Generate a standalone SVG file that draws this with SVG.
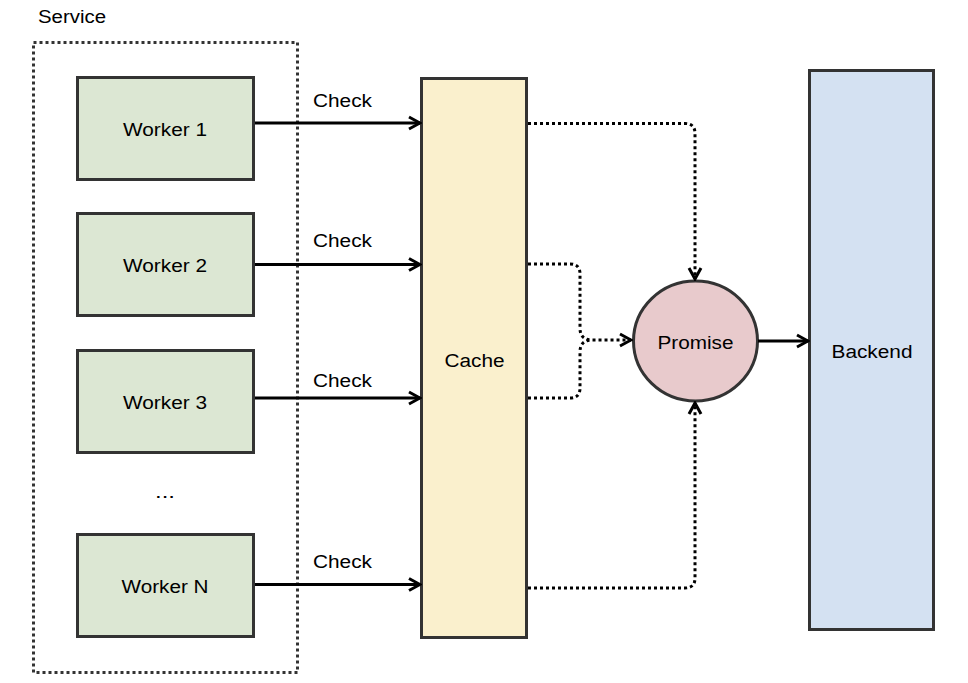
<svg xmlns="http://www.w3.org/2000/svg" width="968" height="683" viewBox="0 0 968 683">
<style>
  text { font-family: "Liberation Sans", Arial, sans-serif; font-size: 18px; fill: #000; }
  .box { stroke: #333; stroke-width: 3; }
  .worker { fill: #dce7d3; }
  .solid { fill: none; stroke: #000; stroke-width: 3; }
  .dot { fill: none; stroke: #000; stroke-width: 3; stroke-dasharray: 3 3; }
  .group { fill: none; stroke: #333; stroke-width: 3; stroke-dasharray: 3 3; }
</style>
<defs>
  <marker id="arr" markerUnits="userSpaceOnUse" viewBox="0 0 16 16" markerWidth="16" markerHeight="16" refX="14" refY="8" orient="auto">
    <path d="M3 2 L14 8 L3 14" fill="none" stroke="#000" stroke-width="3"/>
  </marker>
</defs>
<rect width="968" height="683" fill="#fff"/>

<g id="service">
  <rect class="group" x="33.5" y="42.5" width="264" height="630"/>
  <text x="38" y="23" textLength="68" lengthAdjust="spacingAndGlyphs">Service</text>
</g>

<g id="worker1">
  <rect class="box worker" x="77.5" y="77.5" width="176" height="102"/>
  <text x="123" y="136" textLength="84" lengthAdjust="spacingAndGlyphs">Worker 1</text>
</g>
<g id="worker2">
  <rect class="box worker" x="77.5" y="213.5" width="176" height="102"/>
  <text x="123" y="272" textLength="84" lengthAdjust="spacingAndGlyphs">Worker 2</text>
</g>
<g id="worker3">
  <rect class="box worker" x="77.5" y="350.5" width="176" height="102"/>
  <text x="123" y="409" textLength="84" lengthAdjust="spacingAndGlyphs">Worker 3</text>
</g>
<g id="ellipsis">
  <text x="155" y="498" textLength="20" lengthAdjust="spacingAndGlyphs">...</text>
</g>
<g id="workerN">
  <rect class="box worker" x="77.5" y="534.5" width="176" height="102"/>
  <text x="121.5" y="593" textLength="87" lengthAdjust="spacingAndGlyphs">Worker N</text>
</g>

<g id="cache">
  <rect class="box" fill="#faf0cd" x="421.5" y="78.5" width="105" height="559"/>
  <text x="444.5" y="367" textLength="60" lengthAdjust="spacingAndGlyphs">Cache</text>
</g>

<g id="promise">
  <ellipse class="box" fill="#e8cacc" cx="695.5" cy="341" rx="62" ry="60"/>
  <text x="657.5" y="349" textLength="76" lengthAdjust="spacingAndGlyphs">Promise</text>
</g>

<g id="backend">
  <rect class="box" fill="#d4e1f2" x="809.5" y="70.5" width="124" height="559"/>
  <text x="831.5" y="358" textLength="81" lengthAdjust="spacingAndGlyphs">Backend</text>
</g>

<g id="connectors">
  <path class="solid" d="M255 123 H420" marker-end="url(#arr)"/>
  <path class="solid" d="M255 264.5 H420" marker-end="url(#arr)"/>
  <path class="solid" d="M255 398 H420" marker-end="url(#arr)"/>
  <path class="solid" d="M255 584.5 H420" marker-end="url(#arr)"/>
  <path class="solid" d="M758 341 H808" marker-end="url(#arr)"/>

  <path class="dot" d="M528 123.5 H685 Q695 123.5 695 133.5 V279" marker-end="url(#arr)"/>
  <path class="dot" d="M528 264 H570 Q580 264 580 274 V328 Q580 340 592 340 H631" marker-end="url(#arr)"/>
  <path class="dot" d="M528 398 H570 Q580 398 580 388 V352 Q580 340 592 340"/>
  <path class="dot" d="M528 588 H685 Q695 588 695 578 V403" marker-end="url(#arr)"/>

  <text x="313" y="107" textLength="59" lengthAdjust="spacingAndGlyphs">Check</text>
  <text x="313" y="247" textLength="59" lengthAdjust="spacingAndGlyphs">Check</text>
  <text x="313" y="387" textLength="59" lengthAdjust="spacingAndGlyphs">Check</text>
  <text x="313" y="568" textLength="59" lengthAdjust="spacingAndGlyphs">Check</text>
</g>
</svg>
